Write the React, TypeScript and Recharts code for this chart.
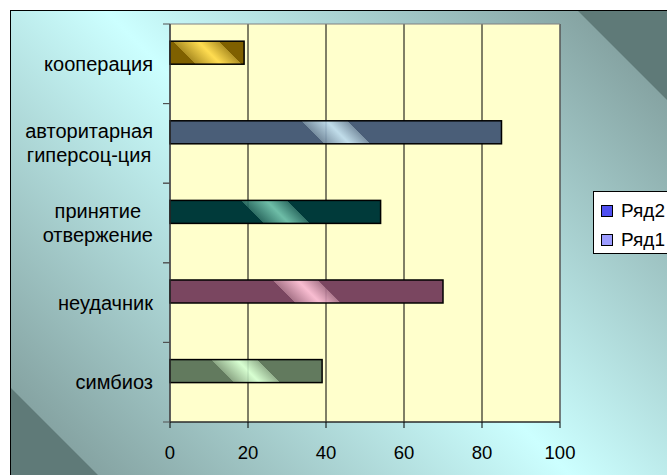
import React from 'react';
import { BarChart, Bar, XAxis, YAxis, CartesianGrid, Legend, ReferenceArea } from 'recharts';

document.body.style.margin = '0';

const categories = ['кооперация', 'авторитарная гиперсоц-ция', 'принятие отвержение', 'неудачник', 'симбиоз'];
const categoryLines = [['кооперация'], ['авторитарная', 'гиперсоц-ция'], ['принятие', 'отвержение'], ['неудачник'], ['симбиоз']];
const row2 = [19, 85, 54, 70, 39];
const row1 = [0, 0, 0, 0, 0];
const xTicks = [0, 20, 40, 60, 80, 100];
const seriesNames = ['Ряд2', 'Ряд1'];

const barBase = ['#7f6000', '#4a5e78', '#003a3a', '#7a4660', '#627a5e'];
const barLight = ['#ffd840', '#b8d8ee', '#5ab4a2', '#f8b4d2', '#d2ffd2'];
const legendColors = ['#4f4ff0', '#9c9cff'];

const FONT = '"Liberation Sans", Arial, sans-serif';
const LABEL_SIZE = 20;
const AXIS_LEFT = 170;
const LABEL_RIGHT = 153;

const data = categories.map((name, i) => ({ name, r2: row2[i], r1: row1[i] }));

let ctx: CanvasRenderingContext2D | null = null;
function textWidth(s: string) {
  if (!ctx) ctx = document.createElement('canvas').getContext('2d');
  if (!ctx) return s.length * 11;
  ctx.font = `${LABEL_SIZE}px ${FONT}`;
  return ctx.measureText(s).width;
}

function mix(a: string, b: string, t: number) {
  const pa = [1, 3, 5].map((k) => parseInt(a.slice(k, k + 2), 16));
  const pb = [1, 3, 5].map((k) => parseInt(b.slice(k, k + 2), 16));
  return '#' + pa.map((v, k) => Math.round(v + (pb[k] - v) * t).toString(16).padStart(2, '0')).join('');
}

function CategoryTick(props: any) {
  const { y, payload } = props;
  const idx = categories.indexOf(payload.value);
  const lines = categoryLines[idx] || [payload.value];
  const half = typeof payload.offset === 'number' && payload.offset > 0 ? payload.offset : 39.8;
  const maxW = Math.max(...lines.map(textWidth));
  const cx = LABEL_RIGHT - maxW / 2;
  const first = y + 7 - (lines.length - 1) * 12;
  return (
    <g>
      <line x1={AXIS_LEFT - 7} x2={AXIS_LEFT} y1={y - half} y2={y - half} stroke="#505050" />
      <line x1={AXIS_LEFT - 7} x2={AXIS_LEFT} y1={y + half} y2={y + half} stroke="#505050" />
      <text textAnchor="middle" fontSize={LABEL_SIZE} fontFamily={FONT} fill="#000">
        {lines.map((l, k) => (
          <tspan key={k} x={cx} y={first + k * 24}>{l}</tspan>
        ))}
      </text>
    </g>
  );
}

function GlossBar(props: any) {
  const { x, y, width, height, index } = props;
  if (!width || width <= 0) return null;
  const cx = x + width / 2;
  const cy = y + height / 2;
  const base = barBase[index];
  const light = barLight[index];
  const id = `gloss-${index}`;
  return (
    <g>
      <defs>
        <linearGradient id={id} gradientUnits="userSpaceOnUse" x1={cx - 11.5} y1={cy + 11.5} x2={cx + 11.5} y2={cy - 11.5}>
          <stop offset="0" stopColor={base} />
          <stop offset="0.001" stopColor={mix(base, light, 0.3)} stopOpacity={0.92} />
          <stop offset="0.55" stopColor={light} stopOpacity={0.88} />
          <stop offset="0.999" stopColor={mix(base, light, 0.35)} stopOpacity={0.92} />
          <stop offset="1" stopColor={base} />
        </linearGradient>
      </defs>
      <rect x={x} y={y} width={width} height={height} fill={`url(#${id})`} stroke="#000" strokeWidth={1.5} />
    </g>
  );
}

function LegendBox() {
  return (
    <div style={{ width: 90, height: 61, border: '1px solid #000', background: '#fff', position: 'relative', fontFamily: FONT, fontSize: 19 }}>
      {seriesNames.map((n, i) => (
        <div key={n} style={{ position: 'absolute', left: 7, top: 8 + i * 29, height: 22, display: 'flex', alignItems: 'center', whiteSpace: 'nowrap' }}>
          <span style={{ width: 10, height: 10, border: '1px solid #000', background: legendColors[i], display: 'inline-block', marginRight: 8 }} />
          <span>{n}</span>
        </div>
      ))}
    </div>
  );
}

export default function App() {
  return (
    <div style={{ position: 'relative', width: 667, height: 475, overflow: 'hidden' }}>
      <svg width={667} height={475} style={{ position: 'absolute', left: 0, top: 0 }}>
        <defs>
          <linearGradient id="chartBg" gradientUnits="userSpaceOnUse" x1={0} y1={378} x2={473} y2={-95}>
            <stop offset="0" stopColor="#5f7a78" />
            <stop offset="0.002" stopColor="#86a4a3" />
            <stop offset="0.5" stopColor="#ccffff" />
            <stop offset="0.998" stopColor="#86a4a3" />
            <stop offset="1" stopColor="#5f7a78" />
          </linearGradient>
        </defs>
        <rect x={10.5} y={10.5} width={700} height={500} fill="url(#chartBg)" stroke="#000" />
      </svg>
      <div style={{ position: 'absolute', left: 0, top: 0 }}>
        <BarChart
          width={667}
          height={475}
          data={data}
          layout="vertical"
          margin={{ top: 24, right: 107, bottom: 0, left: 0 }}
          barCategoryGap="21.6%"
          barGap={0}
        >
          <CartesianGrid horizontal={false} stroke="#000" fill="#ffffcc" fillOpacity={1} />
          <ReferenceArea x1={0} x2={100} fill="none" stroke="#808080" />
          <XAxis
            type="number"
            domain={[0, 100]}
            ticks={xTicks}
            height={53}
            tickSize={6}
            tickMargin={18}
            stroke="#000"
            tick={{ fill: '#000', fontSize: 18.5, fontFamily: FONT }}
          />
          <YAxis
            type="category"
            dataKey="name"
            width={AXIS_LEFT}
            interval={0}
            tickLine={false}
            axisLine={{ stroke: '#404040' }}
            tick={<CategoryTick />}
          />
          <Legend layout="horizontal" verticalAlign="middle" wrapperStyle={{ left: 593, top: 191, width: 90 }} content={() => <LegendBox />} />
          <Bar dataKey="r2" name={seriesNames[0]} shape={<GlossBar />} isAnimationActive={false} />
          <Bar dataKey="r1" name={seriesNames[1]} fill={legendColors[1]} isAnimationActive={false} />
        </BarChart>
      </div>
    </div>
  );
}
